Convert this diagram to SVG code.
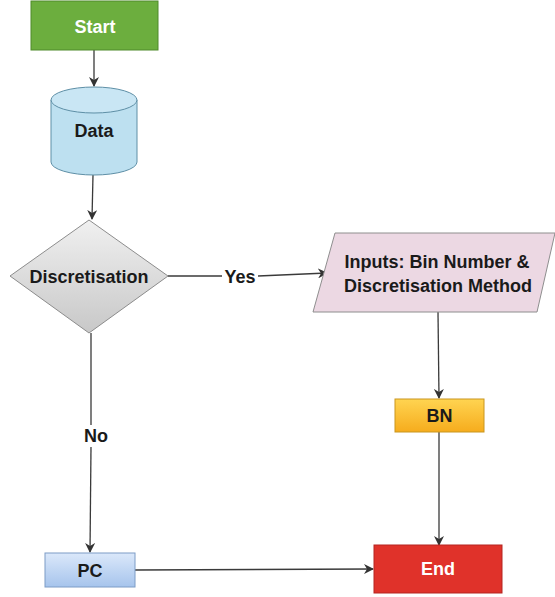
<svg xmlns="http://www.w3.org/2000/svg" width="555" height="597" viewBox="0 0 555 597">
<defs>
<marker id="ah" markerWidth="10" markerHeight="10" refX="9" refY="5" orient="auto" markerUnits="userSpaceOnUse">
<path d="M0,0 L10,5 L0,10 L3,5 Z" fill="#333"/>
</marker>
<linearGradient id="gDia" x1="0" y1="0" x2="0" y2="1"><stop offset="0" stop-color="#f0f0f0"/><stop offset="1" stop-color="#c8c8c8"/></linearGradient>
<linearGradient id="gBN" x1="0" y1="0" x2="0" y2="1"><stop offset="0" stop-color="#ffd451"/><stop offset="1" stop-color="#f6ac1d"/></linearGradient>
<linearGradient id="gPC" x1="0" y1="0" x2="0" y2="1"><stop offset="0" stop-color="#dbe8fa"/><stop offset="1" stop-color="#a6c4ec"/></linearGradient>
</defs>
<style>
text{font-family:"Liberation Sans",Arial,sans-serif;font-weight:bold;font-size:18px;text-anchor:middle;fill:#1a1a1a}
.w{fill:#ffffff}
.c{fill:none;stroke:#3a3a3a;stroke-width:1.3}
</style>
<rect width="555" height="597" fill="#ffffff"/>
<g id="connectors">
<line class="c" x1="94" y1="50" x2="94" y2="86" marker-end="url(#ah)"/>
<line class="c" x1="93" y1="175" x2="92" y2="219" marker-end="url(#ah)"/>
<line class="c" x1="168" y1="276" x2="222" y2="276"/>
<line class="c" x1="258" y1="276" x2="327" y2="273" marker-end="url(#ah)"/>
<line class="c" x1="91" y1="333" x2="91" y2="425"/>
<line class="c" x1="91" y1="447" x2="90" y2="552" marker-end="url(#ah)"/>
<line class="c" x1="438" y1="312" x2="439" y2="398" marker-end="url(#ah)"/>
<line class="c" x1="439" y1="432" x2="439" y2="545" marker-end="url(#ah)"/>
<line class="c" x1="135" y1="570" x2="373" y2="569" marker-end="url(#ah)"/>
<text x="240" y="283">Yes</text>
<text x="96" y="442">No</text>
</g>
<g id="start">
<rect x="31" y="1" width="127" height="49" fill="#6cae3e" stroke="#4f8a2a" stroke-width="1"/>
<text class="w" x="95" y="33">Start</text>
</g>
<g id="data">
<path d="M51,100 L51,162 A43,13 0 0 0 137,162 L137,100 Z" fill="#bde0f0" stroke="#5e8fa6" stroke-width="1"/>
<ellipse cx="94" cy="100" rx="43" ry="13" fill="#c9e6f4" stroke="#5e8fa6" stroke-width="1"/>
<text x="94" y="137">Data</text>
</g>
<g id="discretisation">
<polygon points="89,220 168,276 89,333 10,276" fill="url(#gDia)" stroke="#8c8c8c" stroke-width="1"/>
<text x="89" y="283">Discretisation</text>
</g>
<g id="inputs">
<polygon points="335,233 555,233 537,312 313,312" fill="#ecd8e3" stroke="#8e8e8e" stroke-width="1"/>
<text x="437" y="268">Inputs: Bin Number &amp;</text>
<text x="438" y="292">Discretisation Method</text>
</g>
<g id="bn">
<rect x="395" y="399" width="89" height="33" fill="url(#gBN)" stroke="#c9961f" stroke-width="1"/>
<text x="439.5" y="422">BN</text>
</g>
<g id="pc">
<rect x="45" y="553" width="90" height="34" fill="url(#gPC)" stroke="#7d9cc6" stroke-width="1"/>
<text x="90" y="577">PC</text>
</g>
<g id="end">
<rect x="374" y="545" width="128" height="48" fill="#e0322a" stroke="#b52520" stroke-width="1"/>
<text class="w" x="438" y="575">End</text>
</g>
</svg>
